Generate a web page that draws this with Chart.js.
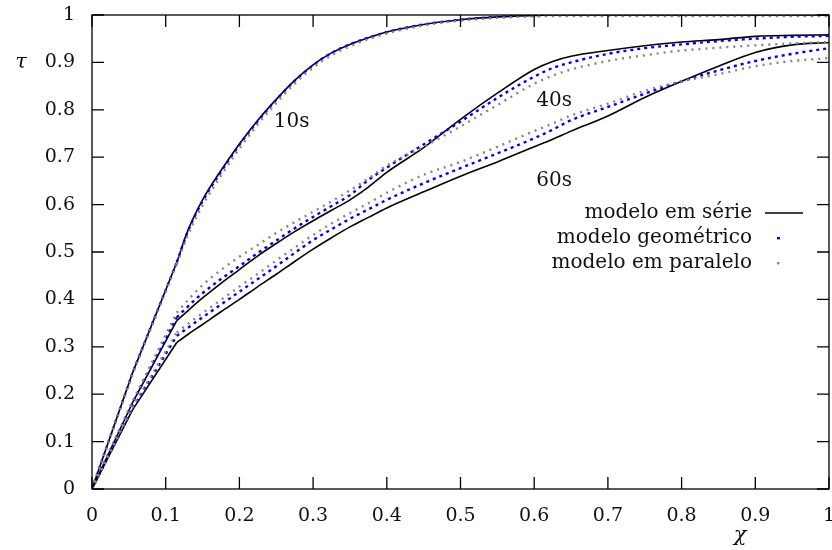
<!DOCTYPE html>
<html>
<head>
<meta charset="utf-8">
<script src="https://cdn.jsdelivr.net/npm/chart.js@4.4.1/dist/chart.umd.min.js"></script>
<style>
html,body{margin:0;padding:0;background:#fff;}
#wrap{width:832px;height:550px;position:relative;}
</style>
</head>
<body>
<div id="wrap"><canvas id="c" width="832" height="550"></canvas></div>
<script>
// chi values (x) shared by all curves
const chi = [0, 0.055, 0.115, 0.13, 0.15, 0.175, 0.2, 0.225, 0.25, 0.275, 0.3, 0.325, 0.35, 0.375, 0.4, 0.45, 0.5, 0.55, 0.6, 0.625, 0.65, 0.7, 0.75, 0.8, 0.85, 0.9, 0.95, 1.0];
// index of the kink where the straight initial leg ends
const kinkIndex = 2;

// 10s
const serie10 = [0, 0.245, 0.478, 0.545, 0.61, 0.672, 0.728, 0.778, 0.822, 0.862, 0.895, 0.92, 0.938, 0.952, 0.964, 0.98, 0.99, 0.996, 0.999, 1, 1, 1, 1, 1, 1, 1, 1, 1];
const geom10  = [0, 0.245, 0.478, 0.543, 0.607, 0.669, 0.726, 0.776, 0.821, 0.861, 0.894, 0.92, 0.938, 0.952, 0.964, 0.98, 0.99, 0.996, 0.999, 1, 1, 1, 1, 1, 1, 1, 1, 1];
const paral10 = [0, 0.243, 0.474, 0.535, 0.598, 0.661, 0.718, 0.769, 0.814, 0.855, 0.889, 0.915, 0.934, 0.949, 0.961, 0.978, 0.988, 0.994, 0.997, 0.998, 0.998, 0.998, 0.998, 0.998, 0.998, 0.998, 0.998, 0.998];

// 40s
const serie40 = [0, 0.182, 0.355, 0.376, 0.403, 0.434, 0.463, 0.492, 0.518, 0.543, 0.566, 0.588, 0.61, 0.637, 0.668, 0.72, 0.78, 0.835, 0.885, 0.902, 0.913, 0.925, 0.935, 0.943, 0.948, 0.955, 0.957, 0.958];
const geom40  = [0, 0.182, 0.362, 0.385, 0.413, 0.443, 0.47, 0.498, 0.524, 0.55, 0.574, 0.597, 0.62, 0.652, 0.678, 0.727, 0.775, 0.825, 0.87, 0.888, 0.9, 0.918, 0.93, 0.938, 0.945, 0.95, 0.954, 0.956];
const paral40 = [0, 0.185, 0.372, 0.398, 0.43, 0.462, 0.49, 0.515, 0.54, 0.563, 0.585, 0.607, 0.63, 0.655, 0.682, 0.722, 0.765, 0.81, 0.855, 0.872, 0.885, 0.903, 0.915, 0.925, 0.931, 0.936, 0.94, 0.943];

// 60s
const serie60 = [0, 0.167, 0.309, 0.326, 0.347, 0.374, 0.4, 0.427, 0.453, 0.48, 0.506, 0.53, 0.553, 0.573, 0.593, 0.627, 0.66, 0.69, 0.722, 0.738, 0.755, 0.787, 0.826, 0.86, 0.892, 0.921, 0.937, 0.942];
const geom60  = [0, 0.17, 0.323, 0.34, 0.362, 0.389, 0.416, 0.443, 0.47, 0.498, 0.525, 0.548, 0.57, 0.59, 0.61, 0.645, 0.677, 0.708, 0.74, 0.758, 0.778, 0.806, 0.834, 0.86, 0.883, 0.903, 0.918, 0.93];
const paral60 = [0, 0.172, 0.33, 0.348, 0.371, 0.399, 0.427, 0.454, 0.482, 0.509, 0.536, 0.56, 0.582, 0.603, 0.625, 0.663, 0.69, 0.722, 0.755, 0.771, 0.788, 0.813, 0.84, 0.86, 0.875, 0.892, 0.903, 0.909];

const tickValues = [0, 0.1, 0.2, 0.3, 0.4, 0.5, 0.6, 0.7, 0.8, 0.9, 1];
const legendLabels = ['modelo em série', 'modelo geométrico', 'modelo em paralelo'];
const curveLabels = ['10s', '40s', '60s'];

const FONT = '"DejaVu Serif", "Liberation Serif", serif';

function pts(arr, from, to) {
  const out = [];
  for (let i = from; i <= to; i++) out.push({x: chi[i], y: arr[i]});
  return out;
}

const styles = {
  serie: {borderColor: '#000000', borderWidth: 1.6, borderDash: []},
  geom:  {borderColor: '#0000ee', borderWidth: 2.4, borderDash: [3, 4]},
  paral: {borderColor: '#858585', borderWidth: 2.4, borderDash: [2, 5]}
};

function dsPair(label, arr, kind) {
  const s = styles[kind];
  const base = {
    borderColor: s.borderColor, borderWidth: s.borderWidth, borderDash: s.borderDash,
    pointRadius: 0, fill: false, borderCapStyle: 'butt', borderJoinStyle: 'round'
  };
  return [
    Object.assign({label: label + ' leg', data: pts(arr, 0, kinkIndex), tension: 0}, base),
    Object.assign({label: label, data: pts(arr, kinkIndex, chi.length - 1), cubicInterpolationMode: 'monotone'}, base)
  ];
}

const datasets = [].concat(
  dsPair('paral10', paral10, 'paral'), dsPair('paral40', paral40, 'paral'), dsPair('paral60', paral60, 'paral'),
  dsPair('geom10', geom10, 'geom'), dsPair('geom40', geom40, 'geom'), dsPair('geom60', geom60, 'geom'),
  dsPair('serie10', serie10, 'serie'), dsPair('serie40', serie40, 'serie'), dsPair('serie60', serie60, 'serie')
);

function fmt(v) {
  const r = Math.round(v * 10) / 10;
  if (r === 0) return '0';
  if (r === 1) return '1';
  return r.toFixed(1);
}

const framePlugin = {
  id: 'frame',
  afterDatasetsDraw(chart) {
    const ctx = chart.ctx, a = chart.chartArea;
    const xs = chart.scales.x, ys = chart.scales.y;
    ctx.save();
    ctx.strokeStyle = '#000';
    ctx.lineWidth = 1.3;
    ctx.strokeRect(a.left, a.top, a.right - a.left, a.bottom - a.top);
    const tl = 12;
    ctx.beginPath();
    tickValues.forEach(v => {
      const px = xs.getPixelForValue(v);
      ctx.moveTo(px, a.bottom); ctx.lineTo(px, a.bottom - tl);
      ctx.moveTo(px, a.top); ctx.lineTo(px, a.top + tl);
      const py = ys.getPixelForValue(v);
      ctx.moveTo(a.left, py); ctx.lineTo(a.left + tl, py);
      ctx.moveTo(a.right, py); ctx.lineTo(a.right - tl, py);
    });
    ctx.stroke();

    // curve labels
    ctx.fillStyle = '#111';
    ctx.font = '20px ' + FONT;
    ctx.textAlign = 'center';
    ctx.textBaseline = 'middle';
    ctx.fillText(curveLabels[0], xs.getPixelForValue(0.271), ys.getPixelForValue(0.775));
    ctx.fillText(curveLabels[1], xs.getPixelForValue(0.627), ys.getPixelForValue(0.818));
    ctx.fillText(curveLabels[2], xs.getPixelForValue(0.627), ys.getPixelForValue(0.650));

    // axis symbols
    ctx.font = 'italic 21px ' + FONT;
    ctx.fillText('τ', 21, 63);
    ctx.fillText('χ', 740, 536);

    // legend
    ctx.font = '20px ' + FONT;
    ctx.textAlign = 'right';
    const rowsY = [213, 238, 263];
    const textRight = 752;
    legendLabels.forEach((t, i) => ctx.fillText(t, textRight, rowsY[i]));
    ctx.beginPath();
    ctx.lineWidth = 1.6;
    ctx.moveTo(765, rowsY[0]); ctx.lineTo(803, rowsY[0]);
    ctx.stroke();
    ctx.fillStyle = '#0000ee';
    ctx.fillRect(777, rowsY[1] - 1, 3, 2.4);
    ctx.fillStyle = '#858585';
    ctx.fillRect(777, rowsY[2] - 1, 2.4, 2.4);
    ctx.restore();
  }
};

new Chart(document.getElementById('c'), {
  type: 'line',
  data: {datasets: datasets},
  options: {
    responsive: false,
    animation: false,
    events: [],
    layout: {padding: {left: 0, right: 3, top: 15, bottom: 0}},
    plugins: {legend: {display: false}, tooltip: {enabled: false}},
    scales: {
      x: {
        type: 'linear', min: 0, max: 1,
        grid: {display: false, drawTicks: false},
        border: {display: false},
        afterBuildTicks: s => { s.ticks = tickValues.map(v => ({value: v})); },
        afterFit: s => { s.height = 61; s.paddingLeft = 0; s.paddingRight = 0; },
        ticks: {color: '#111', padding: 16, maxRotation: 0, autoSkip: false,
                font: {family: FONT, size: 19}, callback: v => fmt(v)}
      },
      y: {
        type: 'linear', min: 0, max: 1,
        grid: {display: false, drawTicks: false},
        border: {display: false},
        afterBuildTicks: s => { s.ticks = tickValues.map(v => ({value: v})); },
        afterFit: s => { s.width = 92; s.paddingTop = 0; s.paddingBottom = 0; },
        ticks: {color: '#111', padding: 17, autoSkip: false,
                font: {family: FONT, size: 19}, callback: v => fmt(v)}
      }
    }
  },
  plugins: [framePlugin]
});
</script>
</body>
</html>
